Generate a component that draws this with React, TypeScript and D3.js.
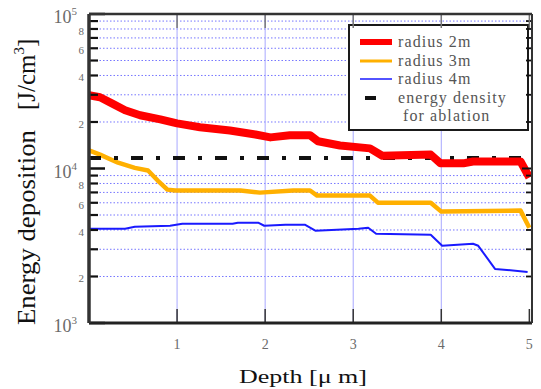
import React from "react";
import * as d3 from "d3";

// Depth in micrometres and deposited energy density (J/cm^3) per beam radius
const depth2m = [0, 0.125, 0.26, 0.41, 0.58, 0.81, 1.0, 1.26, 1.6, 1.89, 2.06, 2.28, 2.51, 2.6, 2.85, 3.19, 3.33, 3.88, 3.99, 4.25, 4.36, 4.9, 5.0];
const energy2m = [29800, 28900, 26400, 23800, 22100, 20800, 19600, 18500, 17600, 16600, 15900, 16400, 16400, 15000, 14100, 13500, 12100, 12300, 10800, 10800, 11100, 11100, 8740];

const depth3m = [0, 0.125, 0.33, 0.52, 0.67, 0.78, 0.89, 0.98, 1.72, 1.94, 2.32, 2.51, 2.59, 3.19, 3.28, 3.88, 4.0, 4.9, 5.0];
const energy3m = [13100, 12300, 10900, 10100, 9700, 8360, 7300, 7200, 7200, 6980, 7200, 7200, 6680, 6680, 6010, 6010, 5260, 5340, 4140];

const depth4m = [0, 0.41, 0.52, 0.92, 1.06, 1.63, 1.69, 1.92, 1.99, 2.23, 2.45, 2.57, 3.06, 3.17, 3.26, 3.88, 4.01, 4.36, 4.42, 4.61, 4.98];
const energy4m = [4070, 4070, 4200, 4260, 4390, 4390, 4460, 4460, 4260, 4330, 4330, 3960, 4070, 4140, 3780, 3730, 3160, 3260, 3160, 2240, 2140];

const ablationDepth = [0, 5.0];
const ablationEnergy = [11700, 11700];

const xTicks = [1, 2, 3, 4, 5];
const yDecades = [1e3, 1e4, 1e5];
const yDecadeExponents = ["3", "4", "5"];
const yMinorLabelled = [2, 4, 6, 8];

const legendLabels = ["radius 2m", "radius 3m", "radius 4m", "energy density", "for ablation"];

const W = 541;
const H = 389;
const left = 89;
const right = 532;
const top = 14;
const bottom = 323;

const serif = "'Liberation Serif', 'Times New Roman', Times, serif";

export default function App() {
  const x = d3.scaleLinear().domain([0, 5.03]).range([left, right]);
  const y = d3.scaleLog().domain([1e3, 1e5]).range([bottom, top]);

  const line = d3
    .line<[number, number]>()
    .x((d) => x(d[0]))
    .y((d) => y(d[1]));

  const zip = (a: number[], b: number[]) => a.map((v, i) => [v, b[i]] as [number, number]);

  const minorValues: number[] = [];
  for (const dec of [1e3, 1e4]) {
    for (let m = 2; m <= 9; m++) minorValues.push(dec * m);
  }

  const labelGray = "#6a6a6a";

  const legendX = 349;
  const legendY = 25;
  const legendRowY = [42, 61, 79, 98, 116];

  return (
    <svg
      width={W}
      height={H}
      style={{ position: "absolute", left: 0, top: 0, background: "#fff", fontFamily: serif }}
    >
      <rect x={0} y={0} width={W} height={H} fill="#fff" />

      {/* grid */}
      <g>
        {minorValues.map((v) => (
          <line
            key={"h" + v}
            x1={left}
            x2={right}
            y1={y(v)}
            y2={y(v)}
            stroke="#4a4aff"
            strokeWidth={1}
            strokeDasharray="1.5 2"
            opacity={0.75}
          />
        ))}
        {xTicks.slice(0, 4).map((t) => (
          <line
            key={"v" + t}
            x1={x(t)}
            x2={x(t)}
            y1={top}
            y2={bottom}
            stroke="#a8a8ff"
            strokeWidth={1}
          />
        ))}
      </g>

      {/* series */}
      <g fill="none" strokeLinejoin="round" strokeLinecap="butt">
        <path d={line(zip(depth4m, energy4m)) || ""} stroke="#1a1aff" strokeWidth={2} />
        <path d={line(zip(depth3m, energy3m)) || ""} stroke="#ffb000" strokeWidth={4.5} />
        <path
          d={line(zip(ablationDepth, ablationEnergy)) || ""}
          stroke="#111"
          strokeWidth={4}
          strokeDasharray="12 13 4 13"
        />
        <path d={line(zip(depth2m, energy2m)) || ""} stroke="#ff0000" strokeWidth={8} />
      </g>

      {/* legend */}
      <g>
        <rect
          x={legendX}
          y={legendY}
          width={528 - legendX}
          height={130 - legendY}
          fill="#fff"
          stroke="#1a1a1a"
          strokeWidth={2}
        />
        <line x1={360} x2={392} y1={legendRowY[0]} y2={legendRowY[0]} stroke="#ff0000" strokeWidth={6} />
        <line x1={360} x2={392} y1={legendRowY[1]} y2={legendRowY[1]} stroke="#ffb000" strokeWidth={3} />
        <line x1={360} x2={392} y1={legendRowY[2]} y2={legendRowY[2]} stroke="#1a1aff" strokeWidth={1.5} />
        <line x1={365} x2={376} y1={legendRowY[3]} y2={legendRowY[3]} stroke="#111" strokeWidth={4} />
        {legendLabels.map((s, i) => (
          <text
            key={s}
            x={i === 4 ? 403 : 398}
            y={legendRowY[i] + 5}
            fontSize={16}
            fontFamily={serif}
            letterSpacing={1.1}
            fill="#555"
          >
            {s}
          </text>
        ))}
      </g>

      {/* ticks */}
      <g stroke="#111">
        {minorValues.map((v) => (
          <g key={"t" + v}>
            <line x1={left} x2={left + 9} y1={y(v)} y2={y(v)} strokeWidth={2.2} />
            <line x1={right} x2={right - 6} y1={y(v)} y2={y(v)} strokeWidth={1.8} />
          </g>
        ))}
        {yDecades.map((v) => (
          <g key={"T" + v}>
            <line x1={left} x2={left + 16} y1={y(v)} y2={y(v)} strokeWidth={2.5} />
            <line x1={right} x2={right - 10} y1={y(v)} y2={y(v)} strokeWidth={2} />
          </g>
        ))}
        {xTicks.map((t) => (
          <g key={"x" + t}>
            <line x1={x(t)} x2={x(t)} y1={bottom} y2={bottom - 14} strokeWidth={1.5} stroke="#333" />
            <line x1={x(t)} x2={x(t)} y1={top} y2={top + 14} strokeWidth={1.5} stroke="#777" />
          </g>
        ))}
      </g>

      {/* frame */}
      <g fill="none">
        <line x1={left} x2={right} y1={top} y2={top} stroke="#333" strokeWidth={2.5} />
        <line x1={left} x2={right} y1={bottom} y2={bottom} stroke="#222" strokeWidth={3} />
        <line x1={left} x2={left} y1={top} y2={bottom} stroke="#333" strokeWidth={3.5} />
        <line x1={right} x2={right} y1={top} y2={bottom} stroke="#333" strokeWidth={2} />
      </g>

      {/* y tick labels */}
      <g fill={labelGray} fontFamily={serif}>
        {yDecades.map((v, i) => (
          <text key={"yl" + v} x={77} y={y(v) + 9} fontSize={18} textAnchor="end">
            10
            <tspan fontSize={11} dy={-8}>
              {yDecadeExponents[i]}
            </tspan>
          </text>
        ))}
        {[1e3, 1e4].map((dec) =>
          yMinorLabelled.map((m) => (
            <text key={"ym" + dec * m} x={84} y={y(dec * m) + 6} fontSize={11} textAnchor="end">
              {m}
            </text>
          ))
        )}
      </g>

      {/* x tick labels */}
      <g fill={labelGray} fontFamily={serif}>
        {xTicks.map((t) => (
          <text key={"xl" + t} x={x(t)} y={349} fontSize={14} textAnchor="middle">
            {t}
          </text>
        ))}
      </g>

      {/* axis titles */}
      <text
        x={303}
        y={383}
        fontSize={19}
        fontFamily={serif}
        textAnchor="middle"
        textLength={128}
        lengthAdjust="spacingAndGlyphs"
        fill="#111"
      >
        Depth [μ m]
      </text>
      <text
        transform="translate(35,325) rotate(-90)"
        fontSize={25}
        fontFamily={serif}
        textLength={195}
        lengthAdjust="spacingAndGlyphs"
        fill="#111"
      >
        Energy deposition
      </text>
      <text transform="translate(35,110) rotate(-90)" fontSize={25} fontFamily={serif} fill="#111">
        [J/cm
        <tspan fontSize={15} dy={-11}>
          3
        </tspan>
        <tspan dy={11}>]</tspan>
      </text>
    </svg>
  );
}
